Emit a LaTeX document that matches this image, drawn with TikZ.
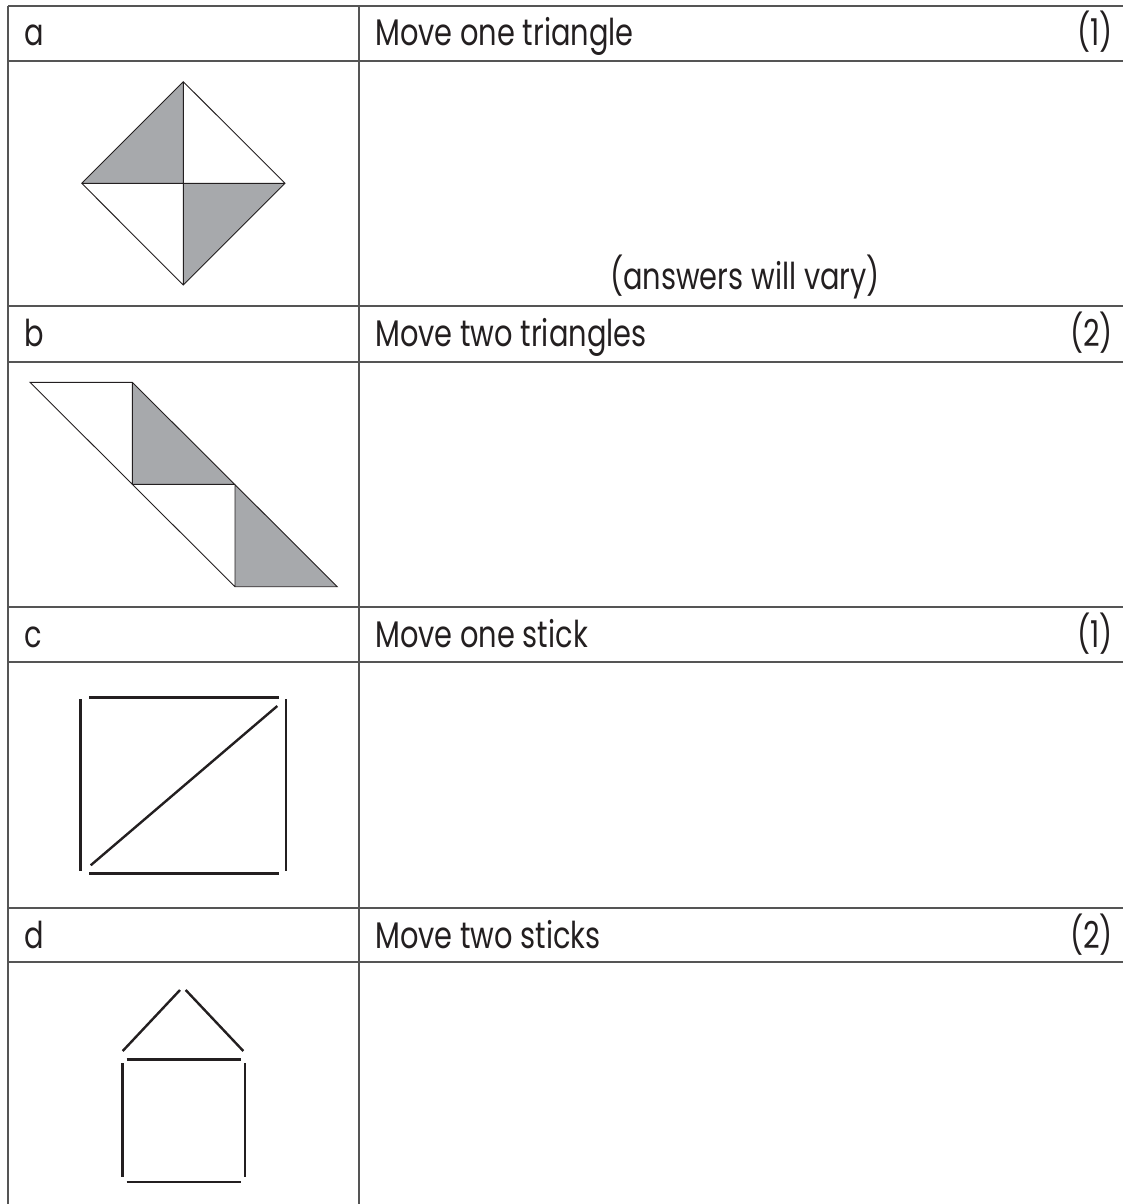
\documentclass[tikz,border=0pt]{standalone}
\usepackage{fontspec}
\setmainfont[FakeStretch=0.78]{Poppins}
\usepackage{tikz}
\definecolor{ws-line}{HTML}{555555}
\definecolor{ws-ink}{HTML}{231F20}
\definecolor{ws-shade}{HTML}{A7A9AC}

\begin{document}
\begin{tikzpicture}[x=1pt, y=-1pt,
    grid/.style={line width=1.5pt, ws-line},
    piece/.style={line width=0.9pt, ws-ink, line join=miter},
    stick/.style={line width=2.4pt, ws-ink},
    txt/.style={font=\fontsize{37}{40}\selectfont, text=ws-ink, inner sep=0pt}]
    \useasboundingbox (0,0) rectangle (1123,1204);
    % table rules
    \foreach \y in {6,61,306,362,607,662,908,962}
        \draw[grid] (8,\y) -- (1123,\y);
    \draw[grid] (8,6) -- (8,1204);
    \draw[grid] (359,6) -- (359,1204);
    % header rows
    \foreach \b/\l/\t/\m in {46/a/Move one triangle/1, 346.5/b/Move two triangles/2,
                             647/c/Move one stick/1, 948/d/Move two sticks/2} {
        \node[txt, anchor=base west] (lbl-\l) at (24,\b) {\l};
        \node[txt, anchor=base west] (task-\l) at (375,\b) {\t};
        \node[txt, anchor=base east] (mark-\l) at (1113,\b) {(\m)};
    }
    \node[txt, anchor=base] (note-a) at (745,289) {(answers will vary)};
    % a: square of four triangles
    \coordinate (dT) at (183.3,81.7);
    \coordinate (dL) at (81.7,183.3);
    \coordinate (dR) at (285,183.3);
    \coordinate (dB) at (183.3,285);
    \coordinate (dC) at (183.3,183.3);
    \fill[ws-shade] (dT) -- (dL) -- (dC) -- cycle;
    \fill[ws-shade] (dC) -- (dR) -- (dB) -- cycle;
    \draw[piece] (dT) -- (dR) -- (dB) -- (dL) -- cycle (dL) -- (dR) (dT) -- (dB);
    % b: strip of four triangles
    \coordinate (sA) at (30,382.3);
    \coordinate (sP) at (132.3,382.3);
    \coordinate (sQ) at (132.3,484.3);
    \coordinate (sS) at (235,484.3);
    \coordinate (sU) at (235,586.7);
    \coordinate (sV) at (337.3,586.7);
    \fill[ws-shade] (sP) -- (sQ) -- (sS) -- cycle;
    \fill[ws-shade] (sS) -- (sU) -- (sV) -- cycle;
    \draw[piece] (sA) -- (sP) -- (sV) -- (sU) -- cycle
        (sP) -- (sQ) -- (sS) -- (sU);
    % c: five sticks
    \draw[stick] (89,697.3) -- (278.7,697.3);
    \draw[stick] (80.3,699.3) -- (80.3,870.7);
    \draw[stick] (286,699.3) -- (286,870.7);
    \draw[stick] (89,873.3) -- (278.7,873.3);
    \draw[stick] (90.7,865.3) -- (277.3,706);
    % d: house of sticks
    \draw[stick] (122.7,1051) -- (180,990);
    \draw[stick] (185.7,990) -- (243.3,1051);
    \draw[stick] (126.7,1059.3) -- (240.7,1059.3);
    \draw[stick] (122.3,1063.3) -- (122.3,1177.3);
    \draw[stick] (244.7,1063.3) -- (244.7,1177.3);
    \draw[stick] (126.7,1182) -- (240.7,1182);
\end{tikzpicture}
\end{document}
